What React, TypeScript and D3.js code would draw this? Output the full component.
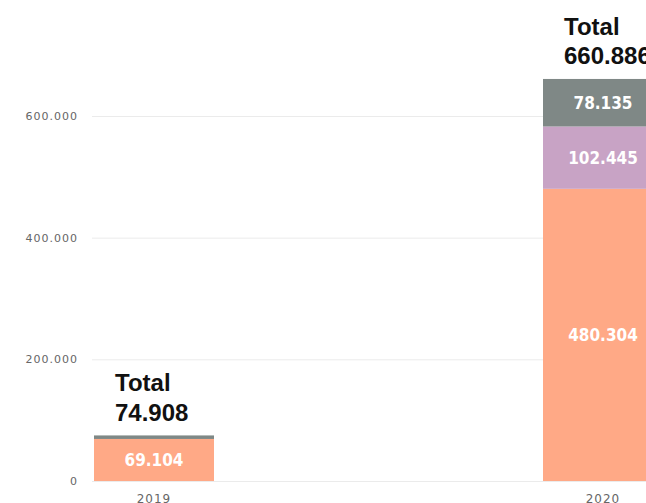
import React, { useEffect, useRef } from "react";
import * as d3 from "d3";

const years = ["2019", "2020"];
const baseValues = [69104, 480304];
const midValues = [0, 102445];
const topValues = [5804, 78135];
const totalLabels = ["74.908", "660.886"];
const segmentLabels = [
  ["69.104", "480.304"],
  ["", "102.445"],
  ["", "78.135"],
];
const yTicks = [0, 200000, 400000, 600000];
const yTickLabels = ["0", "200.000", "400.000", "600.000"];

const colors = ["#ffa986", "#c8a3c5", "#7f8886"];

const App: React.FC = () => {
  const svgRef = useRef<SVGSVGElement | null>(null);

  useEffect(() => {
    if (!svgRef.current) return;
    const width = 646;
    const height = 503;
    const svg = d3.select(svgRef.current);
    svg.selectAll("*").remove();

    const yScale = d3.scaleLinear().domain([0, 600000]).range([481, 116]);
    const xScale = d3.scalePoint<string>().domain(years).range([154, 603]);
    const barWidth = 120;

    // gridlines + tick labels
    const grid = svg.append("g");
    grid
      .selectAll("line")
      .data(yTicks)
      .enter()
      .append("line")
      .attr("x1", 92)
      .attr("x2", width)
      .attr("y1", (d) => yScale(d) + 0.5)
      .attr("y2", (d) => yScale(d) + 0.5)
      .attr("stroke", "#ebebeb")
      .attr("stroke-width", 1);

    grid
      .selectAll("text")
      .data(yTicks)
      .enter()
      .append("text")
      .attr("x", 78)
      .attr("y", (d) => yScale(d))
      .attr("dy", "0.35em")
      .attr("text-anchor", "end")
      .attr("font-family", "DejaVu Sans, sans-serif")
      .attr("font-size", 11)
      .attr("letter-spacing", 1)
      .attr("fill", "#666")
      .text((_, i) => yTickLabels[i]);

    const rows = years.map((y, i) => ({
      year: y,
      base: baseValues[i],
      mid: midValues[i],
      top: topValues[i],
    }));
    const stack = d3.stack<any>().keys(["base", "mid", "top"]);
    const series = stack(rows);

    series.forEach((s, si) => {
      svg
        .append("g")
        .selectAll("rect")
        .data(s)
        .enter()
        .append("rect")
        .attr("x", (d) => xScale(d.data.year)! - barWidth / 2)
        .attr("y", (d) => yScale(d[1]))
        .attr("width", barWidth)
        .attr("height", (d) => yScale(d[0]) - yScale(d[1]))
        .attr("fill", colors[si]);

      svg
        .append("g")
        .selectAll("text")
        .data(s)
        .enter()
        .append("text")
        .attr("x", (d) => xScale(d.data.year)!)
        .attr("y", (d) => (yScale(d[0]) + yScale(d[1])) / 2)
        .attr("dy", "0.35em")
        .attr("text-anchor", "middle")
        .attr("font-family", "DejaVu Sans Condensed, DejaVu Sans, sans-serif")
        .attr("font-weight", "bold")
        .attr("font-size", 17)
        .attr("fill", "#fff")
        .text((_, i) => segmentLabels[si][i]);
    });

    // totals
    const totals = svg.append("g");
    rows.forEach((r, i) => {
      const top = yScale(r.base + r.mid + r.top);
      const x = xScale(r.year)! - barWidth / 2 + 21;
      const t = totals
        .append("text")
        .attr("font-family", "Liberation Sans, Arial, sans-serif")
        .attr("font-weight", "bold")
        .attr("font-size", 24)
        .attr("fill", "#111");
      t.append("tspan").attr("x", x).attr("y", top - 44).text("Total");
      t.append("tspan").attr("x", x).attr("y", top - 14.5).text(totalLabels[i]);
    });

    // x labels
    svg
      .append("g")
      .selectAll("text")
      .data(years)
      .enter()
      .append("text")
      .attr("x", (d) => xScale(d)!)
      .attr("y", 503)
      .attr("text-anchor", "middle")
      .attr("font-family", "DejaVu Sans, sans-serif")
      .attr("font-size", 12)
      .attr("letter-spacing", 1)
      .attr("fill", "#666")
      .text((d) => d);

    svg.attr("width", width).attr("height", height);
  }, []);

  return (
    <svg
      ref={svgRef}
      width={646}
      height={503}
      style={{ position: "absolute", left: 0, top: 0, background: "#fff" }}
    ></svg>
  );
};

export default App;
